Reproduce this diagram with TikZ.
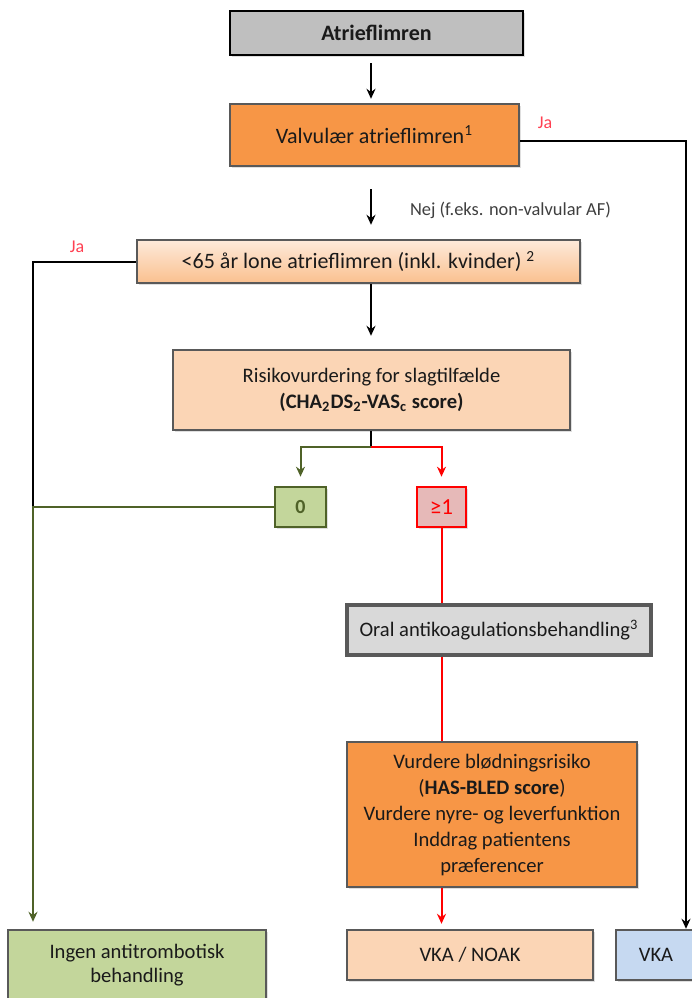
\documentclass[tikz,border=0pt]{standalone}
\usepackage{fontspec}
\setmainfont{Carlito}
\usetikzlibrary{arrows.meta, shadows}
\definecolor{ink}{HTML}{1A1A1A}
\definecolor{rand}{HTML}{595959}
\definecolor{grau}{HTML}{BFBFBF}
\definecolor{hellgrau}{HTML}{D9D9D9}
\definecolor{orange}{HTML}{F79646}
\definecolor{pfirsich}{HTML}{FBD5B5}
\definecolor{lonetop}{HTML}{FDEADA}
\definecolor{lonebot}{HTML}{FAC08F}
\definecolor{gruen}{HTML}{C3D69B}
\definecolor{oliv}{HTML}{4F6228}
\definecolor{rosa}{HTML}{E6B9B8}
\definecolor{rot}{HTML}{FF0000}
\definecolor{jarot}{HTML}{FF4052}
\definecolor{blau}{HTML}{C6D9F1}
\definecolor{nejgrau}{HTML}{3F3F3F}

\begin{document}
\begin{tikzpicture}[x=0.5pt, y=-0.5pt,
				>={Stealth[length=5pt,width=4.5pt]},   %Pfeilspitzen
				font=\fontsize{10.3}{13}\selectfont,
				box/.style={draw=rand, line width=1.2pt, align=center, inner sep=2pt, text=ink,
					drop shadow={shadow xshift=1.2pt, shadow yshift=-1.2pt, opacity=0.25}},
				linie/.style={line width=1pt, black},
				gruenlinie/.style={line width=1pt, oliv},
				rotlinie/.style={line width=1pt, draw=rot},
				ja/.style={text=jarot, font=\fontsize{9}{11}\selectfont}]
				\useasboundingbox (0,0) rectangle (692,998);
				% Hilfspunkte fuer die Linien
				\coordinate (achse) at (371,0);
				\coordinate (rechts) at (686,0);
				\coordinate (links) at (33,0);
				\coordinate (gabel) at (371,447);
				% Kaesten zeichnen
				\node[box, draw=black, fill=grau, minimum width=146.5pt, minimum height=22pt, font=\fontsize{11}{13}\selectfont\bfseries] (start) at (376.5,33) {Atrieflimren};
				\node[box, fill=orange, minimum width=144.5pt, minimum height=31pt, font=\fontsize{11}{13}\selectfont] (valv) at (374.5,135) {Valvulær atrieflimren\textsuperscript{1}};
				\node[box, top color=lonetop, bottom color=lonebot, minimum width=221.5pt, minimum height=21.5pt, font=\fontsize{11}{13}\selectfont] (lone) at (358.5,261.5) {<65 år lone atrieflimren (inkl. kvinder) \textsuperscript{2}};
				\node[box, fill=pfirsich, minimum width=198.5pt, minimum height=40pt] (risk) at (371.5,390) {Risikovurdering for slagtilfælde\\\textbf{(CHA\textsubscript{2}DS\textsubscript{2}-VAS\textsubscript{c} score)}};
				\node[box, draw=oliv, fill=gruen, line width=1.3pt, minimum width=25.5pt, minimum height=20pt, text=oliv, font=\fontsize{10}{12}\selectfont\bfseries] (zero) at (300.5,507) {0};
				\node[box, draw=rot, fill=rosa, line width=1.3pt, minimum width=24.5pt, minimum height=20pt, text=rot, font=\fontsize{11.5}{12}\selectfont] (one) at (441.5,507) {≥1};
				\node[box, fill=hellgrau, line width=1.6pt, minimum width=152pt, minimum height=25pt] (oak) at (499,630) {Oral antikoagulationsbehandling\textsuperscript{3}};
				\node[box, fill=orange, minimum width=145pt, minimum height=72.5pt] (bleed) at (492,814.5) {Vurdere blødningsrisiko\\(\textbf{HAS-BLED score})\\Vurdere nyre- og leverfunktion\\Inddrag patientens\\præferencer};
				\node[box, fill=pfirsich, minimum width=123pt, minimum height=25pt] (vkanoak) at (470,955) {VKA / NOAK};
				\node[box, fill=blau, minimum width=40pt, minimum height=25pt] (vka) at (656,955) {VKA};
				\node[box, fill=gruen, minimum width=129pt, minimum height=35pt, font=\fontsize{10.3}{12}\selectfont] (ingen) at (137,965) {Ingen antitrombotisk\\behandling};
				% Beschriftung
				\node[ja] (ja1) at (545,123) {Ja};
				\node[ja] (ja2) at (77,247) {Ja};
				\node[anchor=west, text=nejgrau, font=\fontsize{9.2}{11}\selectfont] (nej) at (403,210) {Nej (f.eks. non-valvular AF)};
				% Pfeile zeichnen
				\draw[->, linie] ([yshift=-3.5pt]start.south -| achse) -- ([yshift=2pt]valv.north -| achse);
				\draw[->, linie] ([yshift=-11pt]valv.south -| achse) -- ([yshift=7pt]lone.north -| achse);
				\draw[->, linie] (lone.south -| achse) -- ([yshift=6.5pt]risk.north -| achse);
				\draw[linie] (risk.south -| achse) -- (gabel);
				\draw[->, gruenlinie] (gabel) -| ([yshift=4.5pt]zero.north);
				\draw[->, rotlinie] (gabel) -| ([yshift=4.5pt]one.north);
				\draw[rotlinie] (one.south) -- (oak.north -| one.south);
				\draw[rotlinie] (oak.south -| one.south) -- (bleed.north -| one.south);
				\draw[->, rotlinie] (bleed.south -| one.south) -- ([yshift=2.5pt]vkanoak.north -| one.south);
				\draw[->, linie] ([yshift=-3pt]valv.east) -| (vka.north -| rechts);
				\draw[linie] (lone.west) -| (zero.west -| links);
				\draw[->, gruenlinie] (zero.west) -| ([yshift=3.5pt]ingen.north -| links);
			\end{tikzpicture}
\end{document}
